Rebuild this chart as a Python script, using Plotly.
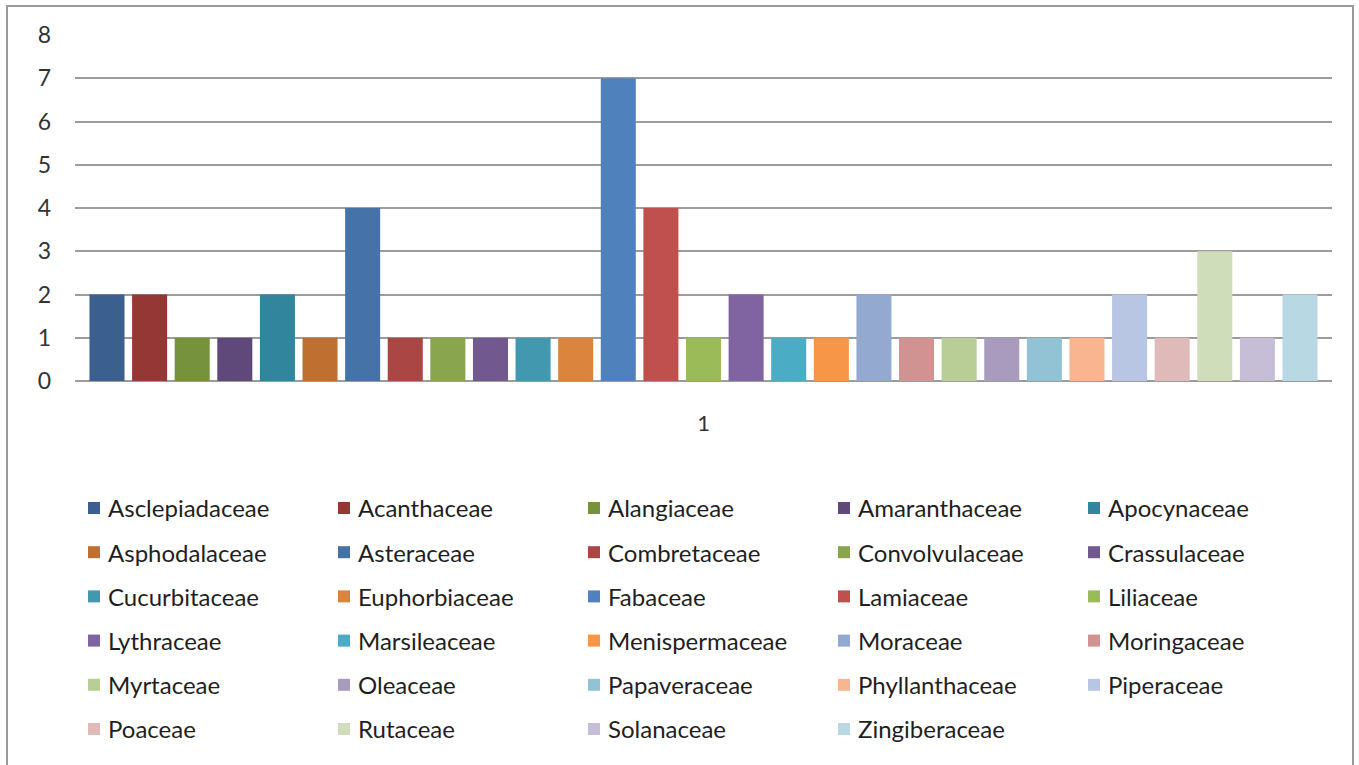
import plotly.graph_objects as go

# Plant families and number of species recorded in each
families = [
    "Asclepiadaceae", "Acanthaceae", "Alangiaceae", "Amaranthaceae", "Apocynaceae",
    "Asphodalaceae", "Asteraceae", "Combretaceae", "Convolvulaceae", "Crassulaceae",
    "Cucurbitaceae", "Euphorbiaceae", "Fabaceae", "Lamiaceae", "Liliaceae",
    "Lythraceae", "Marsileaceae", "Menispermaceae", "Moraceae", "Moringaceae",
    "Myrtaceae", "Oleaceae", "Papaveraceae", "Phyllanthaceae", "Piperaceae",
    "Poaceae", "Rutaceae", "Solanaceae", "Zingiberaceae",
]
counts = [2, 2, 1, 1, 2, 1, 4, 1, 1, 1, 1, 1, 7, 4, 1, 2, 1, 1, 2, 1, 1, 1, 1, 1, 2, 1, 3, 1, 2]
category = ["1"]
y_ticks = [0, 1, 2, 3, 4, 5, 6, 7, 8]

colors = [
    "#3B5F8E", "#953735", "#76923C", "#5F497A", "#31859C", "#BF7030",
    "#4573A8", "#AA4643", "#89A54E", "#71588F", "#4198AF", "#DB843D",
    "#4F81BD", "#C0504D", "#9BBB59", "#8064A2", "#4BACC6", "#F79646",
    "#93A9CF", "#D19392", "#B9CD96", "#A99BBD", "#92C3D4", "#F9B590",
    "#B9C6E3", "#E0BAB9", "#D0DDBA", "#C6BED7", "#B8D8E4",
]

W, H = 1359, 765
ML, MR, MT, MB = 75, 27, 35, 384
PW, PH = W - ML - MR, H - MT - MB
FONT = "Lato, Liberation Sans, sans-serif"

fig = go.Figure()
for name, val, col in zip(families, counts, colors):
    fig.add_trace(go.Bar(x=category, y=[val], name=name, marker_color=col,
                         marker_line_width=0, showlegend=False))


def px_to_paper_x(px):
    return (px - ML) / PW


def px_to_paper_y(py):
    return (H - MB - py) / PH


shapes = []
annotations = []

# Outer chart frame
shapes.append(dict(type="rect", xref="paper", yref="paper",
                   x0=px_to_paper_x(7), x1=px_to_paper_x(1353),
                   y0=px_to_paper_y(775), y1=px_to_paper_y(6),
                   line=dict(color="#9A9A9A", width=2), fillcolor="rgba(0,0,0,0)",
                   layer="below"))

# Legend laid out in five columns below the plot
col_x = [88, 338, 588, 838, 1088]
row_y0, row_dy = 508, 44.2
sq = 12
for i, name in enumerate(families):
    r, c = divmod(i, 5)
    cx = col_x[c]
    cy = row_y0 + r * row_dy
    shapes.append(dict(type="rect", xref="paper", yref="paper",
                       x0=px_to_paper_x(cx), x1=px_to_paper_x(cx + sq),
                       y0=px_to_paper_y(cy + sq / 2), y1=px_to_paper_y(cy - sq / 2),
                       line=dict(width=0), fillcolor=colors[i]))
    annotations.append(dict(xref="paper", yref="paper",
                            x=px_to_paper_x(cx + sq + 6), y=px_to_paper_y(cy),
                            xanchor="left", yanchor="middle", showarrow=False,
                            text=name, font=dict(family=FONT, size=24, color="#1F1F1F")))

fig.update_layout(
    width=W, height=H,
    margin=dict(l=ML, r=MR, t=MT, b=MB, pad=0),
    paper_bgcolor="white", plot_bgcolor="white",
    barmode="group", bargap=0.017, bargroupgap=0.178,
    shapes=shapes, annotations=annotations,
    showlegend=False,
    xaxis=dict(type="category", showgrid=False, zeroline=False, showline=False,
               ticks="", ticklabelstandoff=27,
               tickfont=dict(family=FONT, size=22, color="#333333")),
    yaxis=dict(range=[0, 8], tickvals=y_ticks, showgrid=True, gridcolor="#9C9C9C",
               gridwidth=1.5, zeroline=True, zerolinecolor="#9C9C9C", zerolinewidth=1.5,
               showline=False, ticks="", ticklabelstandoff=23,
               tickfont=dict(family=FONT, size=23, color="#333333")),
)

fig.write_html("out.html")
